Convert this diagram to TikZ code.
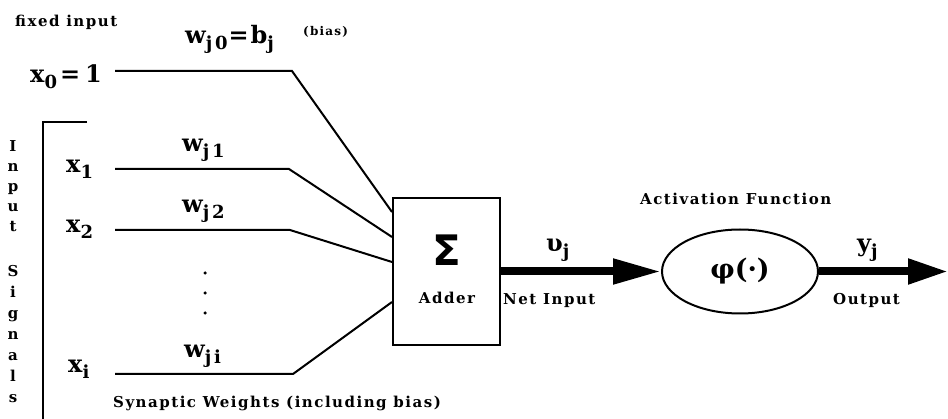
\documentclass[tikz,border=0pt]{standalone}
\usepackage{fontspec}
\setmainfont{DejaVu Serif}
\newfontfamily\lblfont[LetterSpace=10]{DejaVu Serif}
\newfontfamily\subfont[LetterSpace=15]{DejaVu Serif}
\newfontfamily\sigmafont{DejaVu Sans}
\usetikzlibrary{arrows.meta,shapes.geometric,calc}

% lowered index in the symbol labels
\newcommand\lowsub[1]{\raisebox{-6pt}{\subfont\bfseries\fontsize{18}{18}\selectfont #1}}

\tikzset{
  small/.style={font=\lblfont\bfseries\fontsize{15}{17}\selectfont, inner sep=0pt},
  big/.style={font=\bfseries\fontsize{24}{26}\selectfont, inner sep=0pt},
  wire/.style={line width=2pt, line join=miter},
  fat/.style={line width=8pt},
  adderbox/.style={draw, line width=2pt, minimum width=107pt, minimum height=147pt, inner sep=0pt},
  actnode/.style={draw, ellipse, line width=2pt, minimum width=156pt, minimum height=84pt, inner sep=0pt},
  dotnode/.style={circle, fill, inner sep=0pt, minimum size=3.5pt}
}

\begin{document}
\begin{tikzpicture}[x=1pt, y=-1pt]
\useasboundingbox[fill=white] (0,0) rectangle (948,419);

% ---- inputs -------------------------------------------------------
\node[small, anchor=base west] (fixed) at (15,27) {fixed input};
\node[big, anchor=base west] (x0) at (30,83) {x\lowsub{0}\hspace{3pt}=\hspace{5pt}1};
\node[big, anchor=base west] (x1) at (66,173) {x\lowsub{1}};
\node[big, anchor=base west] (x2) at (66,233) {x\lowsub{2}};
\node[big, anchor=base west] (xi) at (68,373) {x\lowsub{i}};

% ---- weights ------------------------------------------------------
\node[big, anchor=base west] (w0) at (185,44) {w\lowsub{j0}\hspace{1pt}=\hspace{2pt}b\lowsub{j}};
\node[font=\lblfont\bfseries\fontsize{12}{13}\selectfont, inner sep=0pt, anchor=base west] (bias) at (303,36) {(bias)};
\node[big, anchor=base west] (w1) at (182,152) {w\lowsub{j1}};
\node[big, anchor=base west] (w2) at (182,213) {w\lowsub{j2}};
\node[big, anchor=base west] (wi) at (184,358) {w\lowsub{ji}};
\node[dotnode] (d1) at (205,273) {};
\node[dotnode] (d2) at (205,293) {};
\node[dotnode] (d3) at (205,313) {};
\node[small, anchor=base west] (syn) at (113,408) {Synaptic Weights (including bias)};

% ---- bracket and vertical caption ---------------------------------
\coordinate (brtop) at (43,122);
\coordinate (brcorner) at (87,122);
\coordinate (brbot) at (43,419);
\draw[line width=2.2pt] (brcorner) -- (brtop) -- (brbot);
\foreach \ch/\yy [count=\k] in {I/152,n/172,p/192,u/212,t/232,S/277,i/298,g/319,n/340,a/361,l/382,s/403}
  \node[small, anchor=base] (sig\k) at (13,\yy) {\ch};

% ---- adder --------------------------------------------------------
\node[adderbox] (adder) at (446.5,271.5) {};
\node[font=\sigmafont\bfseries\fontsize{42}{42}\selectfont, inner sep=0pt] (sigma) at (447,250) {Σ};
\node[small, anchor=base] (addlbl) at (447,304) {Adder};

% ---- input wires --------------------------------------------------
\coordinate (s0) at (115,71);   \coordinate (b0) at (292,71);
\coordinate (s1) at (115,169);  \coordinate (b1) at (289,169);
\coordinate (s2) at (115,230);  \coordinate (b2) at (290,230);
\coordinate (si) at (115,374);  \coordinate (bi) at (293,374);
\coordinate (e0) at ($(adder.north west)+(0,15)$);
\coordinate (e1) at ($(adder.north west)+(0,40)$);
\coordinate (e2) at ($(adder.north west)+(0,65)$);
\coordinate (ei) at ($(adder.north west)+(0,105)$);
\draw[wire] (s0) -- (b0) -- (e0);
\draw[wire] (s1) -- (b1) -- (e1);
\draw[wire] (s2) -- (b2) -- (e2);
\draw[wire] (si) -- (bi) -- (ei);

% ---- activation ---------------------------------------------------
\node[actnode] (act) at (740,271.5) {};
\node[font=\bfseries\fontsize{27}{29}\selectfont, inner sep=0pt] (phi) at (740,271) {φ(·)};
\node[small, anchor=base west] (actlbl) at (640,205) {Activation Function};

\draw[fat, -{Triangle[length=48pt,width=24pt]}] (adder.east) -- (act.west);
\coordinate (outtip) at (948,271.5);
\draw[fat, -{Triangle[length=40pt,width=24pt]}] (act.east) -- (outtip);

\node[big, anchor=base west] (v) at (546,252) {υ\lowsub{j}};
\node[small, anchor=base west] (netlbl) at (503,305) {Net Input};
\node[big, anchor=base west] (y) at (857,252) {y\lowsub{j}};
\node[small, anchor=base west] (outlbl) at (833,305) {Output};
\end{tikzpicture}
\end{document}
